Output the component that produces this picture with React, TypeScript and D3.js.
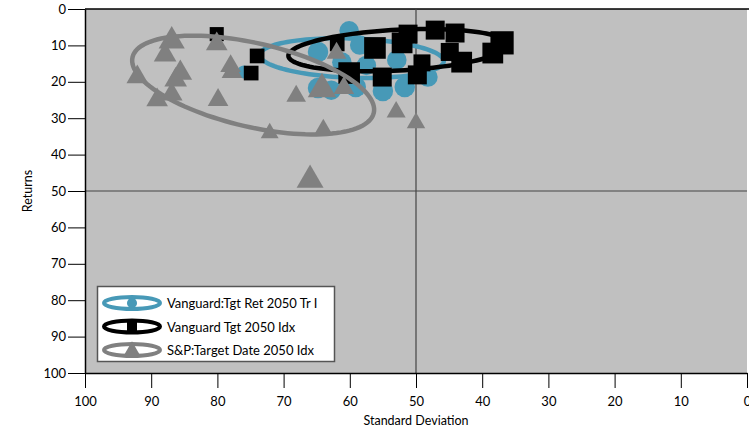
import React, { useEffect, useRef } from "react";
import * as d3 from "d3";

const xTicks = [100, 90, 80, 70, 60, 50, 40, 30, 20, 10, 0];
const yTicks = [0, 10, 20, 30, 40, 50, 60, 70, 80, 90, 100];

const seriesNames = [
  "Vanguard:Tgt Ret 2050 Tr I",
  "Vanguard Tgt 2050 Idx",
  "S&P:Target Date 2050 Idx",
];
const seriesColors = ["#4799b7", "#000000", "#808080"];

// Vanguard:Tgt Ret 2050 Tr I
const tgtRetSD = [76.0, 64.8, 60.1, 61.2, 58.5, 64.8, 62.8, 59.1, 55.0, 51.7, 52.9, 48.2, 57.5];
const tgtRetReturn = [17.3, 11.8, 6.0, 14.6, 9.9, 21.7, 22.3, 21.4, 22.5, 21.4, 14.0, 18.7, 15.5];
const tgtRetWeight = [0.45, 1.1, 1, 1, 1, 1.1, 1, 1.1, 1.1, 1.1, 1, 1, 1];

// Vanguard Tgt 2050 Idx
const idxSD = [80.1, 74.0, 74.9, 61.9, 60.1, 56.2, 52.1, 51.2, 49.1, 49.8, 55.1, 47.1, 44.1, 44.9, 43.1, 37.0, 38.4];
const idxReturn = [6.9, 12.9, 17.6, 9.6, 17.6, 10.7, 9.3, 6.9, 14.8, 18.1, 18.7, 5.8, 6.6, 11.8, 14.6, 9.3, 12.1];
const idxWeight = [0.55, 0.6, 0.6, 0.6, 1.3, 1.3, 1.2, 1, 0.8, 1, 1, 1, 1, 0.9, 1.2, 1.5, 1.2];

// S&P:Target Date 2050 Idx
const spSD = [86.9, 87.9, 85.6, 86.3, 92.1, 89.1, 86.9, 80.1, 79.9, 78.0, 77.8, 68.1, 64.2, 60.9, 53.0, 50.0, 72.1, 64.0, 66.0, 62.0];
const spReturn = [8.8, 12.6, 17.6, 19.5, 18.7, 25.0, 23.4, 9.6, 25.0, 15.7, 17.3, 23.9, 22.0, 21.7, 28.3, 31.3, 34.1, 33.2, 47.0, 12.1];
const spWeight = [1.6, 1.2, 1.3, 1.2, 1.1, 1.1, 1.1, 1.1, 1, 1, 1, 0.9, 1.9, 1, 0.85, 0.8, 0.75, 0.85, 1.7, 0.9];

// ellipse per series: centre, half-axes (data units) and tilt in degrees
const ellipseCentreSD = [59.7, 52.7, 74.6];
const ellipseCentreReturn = [13.5, 11.3, 20.9];
const ellipseHalfSD = [13.9, 16.6, 18.7];
const ellipseHalfReturn = [5.4, 5.6, 11.5];
const ellipseTilt = [2, -3, 13];

const App: React.FC = () => {
  const svgRef = useRef<SVGSVGElement | null>(null);

  useEffect(() => {
    if (!svgRef.current) return;
    const svg = d3.select(svgRef.current);
    svg.selectAll("*").remove();

    const width = 749;
    const height = 429;
    const left = 85;
    const right = 747;
    const top = 9;
    const bottom = 373;
    const font = "Lato, 'DejaVu Sans', sans-serif";

    svg.attr("width", width).attr("height", height);

    const x = d3.scaleLinear().domain([100, 0]).range([left, right]);
    const y = d3.scaleLinear().domain([0, 100]).range([top, bottom]);

    svg
      .append("rect")
      .attr("x", left)
      .attr("y", top)
      .attr("width", right - left)
      .attr("height", bottom - top)
      .attr("fill", "#c0c0c0");

    svg
      .append("line")
      .attr("x1", left)
      .attr("x2", width)
      .attr("y1", top)
      .attr("y2", top)
      .attr("stroke", "#000")
      .attr("stroke-width", 1.5);

    // quadrant lines
    svg
      .append("line")
      .attr("x1", x(50))
      .attr("x2", x(50))
      .attr("y1", top)
      .attr("y2", bottom)
      .attr("stroke", "#444")
      .attr("stroke-width", 1.2);
    svg
      .append("line")
      .attr("x1", left)
      .attr("x2", right)
      .attr("y1", y(50))
      .attr("y2", y(50))
      .attr("stroke", "#444")
      .attr("stroke-width", 1.2);

    const yAxis = svg
      .append("g")
      .attr("transform", `translate(${left},0)`)
      .call(d3.axisLeft(y).tickValues(yTicks).tickSize(17).tickSizeOuter(0).tickPadding(2));
    const xAxis = svg
      .append("g")
      .attr("transform", `translate(0,${bottom})`)
      .call(d3.axisBottom(x).tickValues(xTicks).tickSize(15).tickSizeOuter(0).tickPadding(9));
    [yAxis, xAxis].forEach((ax) => {
      ax.selectAll("text").attr("font-family", font).attr("font-size", 13).attr("fill", "#000");
      ax.selectAll("line").attr("stroke", "#000");
      ax.select(".domain").attr("stroke", "#000").attr("stroke-width", 1.5);
    });

    svg
      .append("text")
      .attr("x", (left + right) / 2)
      .attr("y", 425)
      .attr("text-anchor", "middle")
      .attr("font-family", font)
      .attr("font-size", 12.5)
      .text("Standard Deviation");
    svg
      .append("text")
      .attr("transform", `translate(32,${(top + bottom) / 2}) rotate(-90)`)
      .attr("text-anchor", "middle")
      .attr("font-family", font)
      .attr("font-size", 12.5)
      .text("Returns");

    const series = [
      { sd: tgtRetSD, ret: tgtRetReturn, w: tgtRetWeight, symbol: d3.symbolCircle, base: 300 },
      { sd: idxSD, ret: idxReturn, w: idxWeight, symbol: d3.symbolSquare, base: 360 },
      { sd: spSD, ret: spReturn, w: spWeight, symbol: d3.symbolTriangle, base: 185 },
    ];

    const ellipsePoints = (i: number) => {
      const cx = x(ellipseCentreSD[i]);
      const cy = y(ellipseCentreReturn[i]);
      const a = Math.abs(x(ellipseCentreSD[i] + ellipseHalfSD[i]) - cx);
      const b = Math.abs(y(ellipseCentreReturn[i] + ellipseHalfReturn[i]) - cy);
      const th = (ellipseTilt[i] * Math.PI) / 180;
      return d3.range(0, 120).map((k) => {
        const t = (k / 120) * Math.PI * 2;
        const u = a * Math.cos(t);
        const v = b * Math.sin(t);
        return [cx + u * Math.cos(th) - v * Math.sin(th), cy + u * Math.sin(th) + v * Math.cos(th)] as [number, number];
      });
    };
    const line = d3.line().curve(d3.curveLinearClosed);

    series.forEach((s, i) => {
      const g = svg.append("g");
      g.append("path")
        .attr("d", line(ellipsePoints(i)) || "")
        .attr("fill", "none")
        .attr("stroke", seriesColors[i])
        .attr("stroke-width", 4.5);
      g.selectAll("path.mark")
        .data(s.sd.map((d, k) => ({ sd: d, ret: s.ret[k], w: s.w[k] })))
        .enter()
        .append("path")
        .attr("class", "mark")
        .attr("transform", (d) => `translate(${x(d.sd)},${y(d.ret)})`)
        .attr("d", (d) => d3.symbol().type(s.symbol).size(s.base * d.w)() || "")
        .attr("fill", seriesColors[i]);
    });

    // legend
    const lg = svg.append("g");
    lg.append("rect")
      .attr("x", 97.5)
      .attr("y", 286.5)
      .attr("width", 237)
      .attr("height", 75)
      .attr("fill", "#fff")
      .attr("stroke", "#555")
      .attr("stroke-width", 1.5);
    const legendSymbols = [d3.symbolCircle, d3.symbolSquare, d3.symbolTriangle];
    const legendSizes = [80, 100, 100];
    seriesNames.forEach((name, i) => {
      const cy = 303 + i * 23.5;
      lg.append("ellipse")
        .attr("cx", 132)
        .attr("cy", cy)
        .attr("rx", 28)
        .attr("ry", 6)
        .attr("fill", "none")
        .attr("stroke", seriesColors[i])
        .attr("stroke-width", 4);
      lg.append("path")
        .attr("transform", `translate(132,${cy})`)
        .attr("d", d3.symbol().type(legendSymbols[i]).size(legendSizes[i])() || "")
        .attr("fill", seriesColors[i]);
      lg.append("text")
        .attr("x", 167)
        .attr("y", cy + 5)
        .attr("font-family", font)
        .attr("font-size", 13)
        .text(name);
    });
  }, []);

  return <svg ref={svgRef} style={{ position: "absolute", left: 0, top: 0 }}></svg>;
};

export default App;
